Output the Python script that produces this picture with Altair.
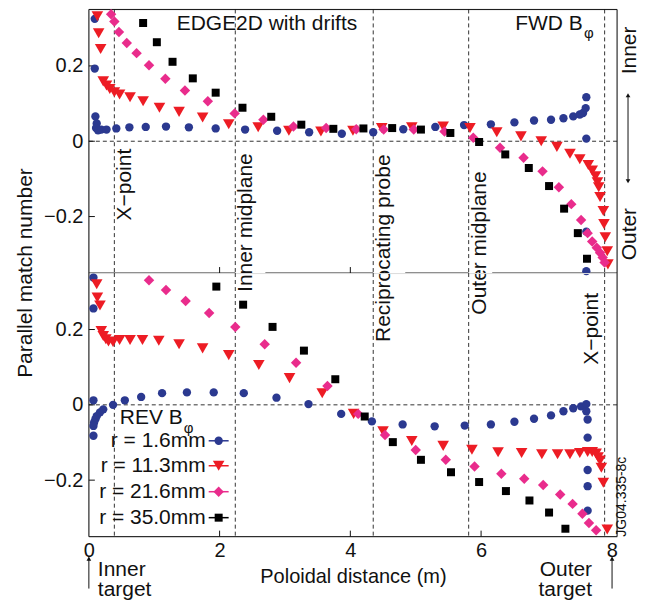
import altair as alt
import pandas as pd

FONT = "Liberation Sans"
W, H = 529, 264
X_DOMAIN = [0, 8.08]
Y_DOMAIN = [-0.35, 0.35]

# ---------------- data ----------------
SERIES = ["r = 1.6mm", "r = 11.3mm", "r = 21.6mm", "r = 35.0mm"]
COLORS = ["#2B3990", "#ED1C24", "#E92C8C", "#000000"]
SHAPES = ["circle", "triangle-down", "diamond", "square"]
SIZES = [70, 135, 110, 64]

# FWD B_phi (top panel)
fwd_blue_x = [0.09, 0.09, 0.10, 0.12, 0.11, 0.14, 0.19, 0.27, 0.42, 0.62, 0.87, 1.18, 1.53, 1.94, 2.39,
              2.88, 3.37, 3.87, 4.35, 4.81, 5.30, 5.74, 6.15, 6.51, 6.81, 7.07, 7.26, 7.41, 7.51, 7.56,
              7.60, 7.61, 7.61, 7.61, 7.61]
fwd_blue_y = [0.325, 0.193, 0.066, 0.047, 0.035, 0.029, 0.031, 0.031, 0.034, 0.037, 0.038, 0.039, 0.037,
              0.034, 0.031, 0.028, 0.024, 0.020, 0.024, 0.032, 0.038, 0.043, 0.045, 0.050, 0.055, 0.057,
              0.061, 0.066, 0.071, 0.075, 0.088, 0.117, 0.007, -0.24, -0.345]
fwd_red_x = [0.13, 0.15, 0.18, 0.22, 0.27, 0.32, 0.39, 0.47, 0.63, 0.83, 1.08, 1.38, 1.74, 2.14, 2.59,
             3.06, 3.55, 4.04, 4.48, 4.94, 5.42, 5.83, 6.24, 6.61, 6.92, 7.16, 7.36, 7.51, 7.64, 7.70,
             7.75, 7.78, 7.80, 7.82, 7.87, 7.88, 7.90, 7.93, 7.94]
fwd_red_y = [0.332, 0.287, 0.245, 0.159, 0.148, 0.139, 0.130, 0.124, 0.117, 0.106, 0.089, 0.078, 0.063,
             0.045, 0.037, 0.028, 0.026, 0.028, 0.035, 0.037, 0.039, 0.035, 0.024, 0.013, 0.000, -0.015,
             -0.033, -0.048, -0.063, -0.078, -0.093, -0.109, -0.122, -0.148, -0.185, -0.22, -0.255,
             -0.292, -0.327]
fwd_mag_x = [0.34, 0.39, 0.46, 0.58, 0.73, 0.92, 1.17, 1.47, 1.82, 2.23, 2.67, 3.13, 3.63, 4.09, 4.51,
             4.97, 5.44, 5.88, 6.29, 6.65, 6.94, 7.19, 7.38, 7.53, 7.63, 7.70, 7.77, 7.82, 7.86, 7.89]
fwd_mag_y = [0.337, 0.318, 0.29, 0.261, 0.234, 0.202, 0.166, 0.135, 0.106, 0.074, 0.057, 0.039, 0.035,
             0.032, 0.031, 0.031, 0.026, 0.009, -0.017, -0.044, -0.080, -0.122, -0.167, -0.209, -0.244,
             -0.266, -0.283, -0.296, -0.309, -0.322]
fwd_blk_x = [0.83, 1.04, 1.28, 1.59, 1.94, 2.35, 2.79, 3.25, 3.74, 4.20, 4.64, 5.08, 5.53, 5.97, 6.37,
             6.73, 7.04, 7.27, 7.48, 7.62]
fwd_blk_y = [0.314, 0.263, 0.211, 0.167, 0.129, 0.089, 0.065, 0.044, 0.033, 0.034, 0.035, 0.031, 0.022,
             -0.002, -0.035, -0.071, -0.119, -0.179, -0.244, -0.312]

# REV B_phi (bottom panel)
rev_blue_x = [0.07, 0.07, 0.07, 0.22, 0.17, 0.12, 0.10, 0.08, 0.07, 0.07, 0.37, 0.55, 0.80, 1.12, 1.50,
              1.91, 2.37, 2.87, 3.36, 3.86, 4.33, 4.80, 5.29, 5.75, 6.15, 6.51, 6.81, 7.07, 7.26, 7.41,
              7.53, 7.61, 7.61, 7.63, 7.63, 7.63, 7.63, 7.63]
rev_blue_y = [0.338, 0.256, 0.012, -0.012, -0.02, -0.03, -0.038, -0.047, -0.056, -0.082, 0.0, 0.012,
              0.021, 0.031, 0.033, 0.033, 0.031, 0.019, 0.002, -0.024, -0.044, -0.052, -0.057, -0.055,
              -0.052, -0.045, -0.037, -0.028, -0.017, -0.009, -0.004, 0.002, -0.017, -0.039, -0.087,
              -0.173, -0.216, -0.281]
rev_red_x = [0.12, 0.13, 0.17, 0.19, 0.22, 0.26, 0.30, 0.37, 0.47, 0.63, 0.82, 1.07, 1.38, 1.74, 2.14,
             2.60, 3.07, 3.57, 4.05, 4.50, 4.94, 5.42, 5.86, 6.26, 6.62, 6.93, 7.17, 7.36, 7.51, 7.63,
             7.70, 7.76, 7.79, 7.82, 7.84, 7.87, 7.93]
rev_red_y = [0.32, 0.285, 0.264, 0.196, 0.183, 0.174, 0.168, 0.167, 0.172, 0.172, 0.172, 0.170, 0.161,
             0.150, 0.132, 0.106, 0.071, 0.031, -0.024, -0.070, -0.096, -0.109, -0.119, -0.126, -0.128,
             -0.131, -0.131, -0.131, -0.128, -0.125, -0.125, -0.129, -0.139, -0.148, -0.167, -0.207,
             -0.331]
rev_mag_x = [0.92, 1.18, 1.48, 1.84, 2.24, 2.69, 3.17, 3.65, 4.12, 4.53, 5.00, 5.46, 5.90, 6.31, 6.66,
             6.95, 7.21, 7.40, 7.55, 7.65, 7.76]
rev_mag_y = [0.331, 0.305, 0.276, 0.244, 0.207, 0.161, 0.112, 0.050, -0.024, -0.080, -0.120, -0.146,
             -0.164, -0.183, -0.196, -0.213, -0.238, -0.263, -0.289, -0.314, -0.333]
rev_blk_x = [1.95, 2.36, 2.81, 3.29, 3.77, 4.22, 4.65, 5.08, 5.54, 5.97, 6.38, 6.74, 7.04, 7.29]
rev_blk_y = [0.314, 0.266, 0.207, 0.144, 0.068, -0.031, -0.099, -0.146, -0.179, -0.205, -0.229, -0.254,
             -0.286, -0.329]

# reference locations (dashed lines) and their labels
LOC_X = [0.39, 2.24, 4.35, 5.81, 7.89]
TOP_LABELS = ["X\u2212point", "Inner midplane", "Reciprocating probe", "Outer midplane"]
TOP_LABEL_X = [0.39, 2.24, 4.35, 5.81]
TOP_LABEL_Y = [-0.02, -0.032, -0.035, -0.08]
BOT_LABELS = ["X\u2212point"]
BOT_LABEL_X = [7.89]
BOT_LABEL_Y = [0.297]

Y_TICKS = [-0.2, 0, 0.2]
X_TICKS = [0, 2, 4, 6, 8]
TOP_INNER_XTICKS = [2, 4]
BOT_INNER_XTICKS = [2, 4, 6]
DIVIDER_GAPS = [(2.24, 2.70), (4.35, 4.84), (5.81, 6.17)]

# ---------------- helpers ----------------
XS = alt.Scale(domain=X_DOMAIN, nice=False, zero=False)
YS = alt.Scale(domain=Y_DOMAIN, nice=False, zero=False)
ONE = pd.DataFrame({"v": [0]})
INK = "#111111"

Y_AXIS = alt.Axis(values=Y_TICKS, format=".1~f", domain=False, ticks=False, grid=False,
                  labelPadding=6, labelFontSize=20, labelFont=FONT, labelColor=INK, title=None)
X_AXIS_BOTTOM = alt.Axis(values=X_TICKS, format="d", domain=False, ticks=False, grid=False,
                         labelPadding=4, labelFontSize=20, labelFont=FONT, labelColor=INK,
                         labelFlush=False, title="Poloidal distance (m)", titleFontSize=20,
                         titleFont=FONT, titleFontWeight="normal", titleColor=INK, titlePadding=6)


def text_at(txt, x, y, size=21, **kw):
    return alt.Chart(ONE).mark_text(fontSize=size, font=FONT, color=INK, **kw).encode(
        x=alt.value(x), y=alt.value(y), text=alt.value(txt))


def rule_px(x, y, x2=None, y2=None, **kw):
    enc = dict(x=alt.value(x), y=alt.value(y))
    if x2 is not None:
        enc["x2"] = alt.value(x2)
    if y2 is not None:
        enc["y2"] = alt.value(y2)
    return alt.Chart(ONE).mark_rule(color=INK, strokeWidth=1, **kw).encode(**enc)


def head(x, y, shape, size=30):
    return alt.Chart(ONE).mark_point(filled=True, opacity=1, color=INK, shape=shape, size=size).encode(
        x=alt.value(x), y=alt.value(y))


def panel_layers(xy_lists, label_names, label_x, label_y, top):
    xax = None if top else X_AXIS_BOTTOM

    def X(f="x"):
        return alt.X(f + ":Q", scale=XS, axis=xax)

    def Y(f="y"):
        return alt.Y(f + ":Q", scale=YS, axis=Y_AXIS)

    layers = []
    layers.append(alt.Chart(pd.DataFrame({"x": LOC_X})).mark_rule(
        color="#333333", strokeDash=[4, 3], strokeWidth=1).encode(x=X()))
    layers.append(alt.Chart(pd.DataFrame({"y": [0]})).mark_rule(
        color="#333333", strokeDash=[4, 3], strokeWidth=1).encode(y=Y()))
    layers.append(alt.Chart(pd.DataFrame({"y": Y_TICKS})).mark_rule(color=INK).encode(
        y=Y(), x=alt.value(0), x2=alt.value(6)))
    if top:
        seg_start = [X_DOMAIN[0]] + [g[1] for g in DIVIDER_GAPS]
        seg_end = [g[0] for g in DIVIDER_GAPS] + [X_DOMAIN[1]]
        layers.append(alt.Chart(pd.DataFrame({"x": seg_start, "x2": seg_end})).mark_rule(
            color=INK).encode(x=X(), x2="x2:Q", y=alt.value(H)))
        layers.append(alt.Chart(pd.DataFrame({"x": TOP_INNER_XTICKS})).mark_rule(color=INK).encode(
            x=X(), y=alt.value(H), y2=alt.value(H - 6)))
        layers += [rule_px(0, 0, x2=W), rule_px(0, 0, y2=H), rule_px(W, 0, y2=H)]
    else:
        layers.append(alt.Chart(pd.DataFrame({"x": BOT_INNER_XTICKS})).mark_rule(color=INK).encode(
            x=X(), y=alt.value(H), y2=alt.value(H - 6)))
        layers += [rule_px(0, 0, y2=H), rule_px(W, 0, y2=H), rule_px(0, H, x2=W)]
    for i, (xs, ys) in enumerate(xy_lists):
        df = pd.DataFrame({"x": xs, "y": ys})
        layers.append(
            alt.Chart(df).mark_point(filled=True, opacity=1, shape=SHAPES[i], size=SIZES[i],
                                     color=COLORS[i], strokeWidth=0).encode(x=X(), y=Y()))
    layers.append(alt.Chart(pd.DataFrame({"x": label_x, "y": label_y, "label": label_names})).mark_text(
        angle=270, align="right", baseline="top" if top else "bottom", dy=0 if top else -3,
        fontSize=21, font=FONT, color=INK).encode(x=X(), y=Y(), text="label:N"))
    return layers


# ---------------- top panel ----------------
top_layers = panel_layers(
    [(fwd_blue_x, fwd_blue_y), (fwd_red_x, fwd_red_y), (fwd_mag_x, fwd_mag_y), (fwd_blk_x, fwd_blk_y)],
    TOP_LABELS, TOP_LABEL_X, TOP_LABEL_Y, True)
top_layers += [
    text_at("EDGE2D with drifts", 88, 21, align="left", baseline="alphabetic"),
    text_at("FWD B", 427, 21, align="left", baseline="alphabetic"),
    text_at("\u03c6", 496, 29, size=15, align="left", baseline="alphabetic"),
    text_at("Inner", W + 13, 41, angle=270, align="center", baseline="middle"),
    text_at("Outer", W + 13, 225, angle=270, align="center", baseline="middle"),
    rule_px(W + 11, 86, y2=172),
    head(W + 11, 86, "triangle-up", 22),
    head(W + 11, 172, "triangle-down", 22),
    text_at("Parallel match number", -63, H, angle=270, align="center", baseline="middle"),
]
top = alt.layer(*top_layers).properties(width=W, height=H)

# ---------------- bottom panel ----------------
bot_layers = panel_layers(
    [(rev_blue_x, rev_blue_y), (rev_red_x, rev_red_y), (rev_mag_x, rev_mag_y), (rev_blk_x, rev_blk_y)],
    BOT_LABELS, BOT_LABEL_X, BOT_LABEL_Y, False)

# legend (REV B_phi)
LEG_ROWS = [168, 193, 219, 245]
bot_layers += [
    text_at("REV B", 31, 151, align="left", baseline="alphabetic"),
    text_at("\u03c6", 95, 160, size=15, align="left", baseline="alphabetic"),
]
for i, name in enumerate(SERIES):
    yrow = LEG_ROWS[i]
    bot_layers.append(text_at(name, 117, yrow, align="right", baseline="middle"))
    bot_layers.append(alt.Chart(ONE).mark_rule(color=COLORS[i], strokeWidth=1.5).encode(
        x=alt.value(120), x2=alt.value(140), y=alt.value(yrow)))
    bot_layers.append(alt.Chart(ONE).mark_point(filled=True, opacity=1, shape=SHAPES[i], size=SIZES[i],
                                                color=COLORS[i], strokeWidth=0).encode(
        x=alt.value(130), y=alt.value(yrow)))

bot_layers += [
    text_at("JG04.335-8c", W + 5, H, size=14, angle=270, align="left", baseline="middle"),
    text_at("Inner", 9, H + 39, align="left", baseline="alphabetic"),
    text_at("target", 9, H + 59, align="left", baseline="alphabetic"),
    rule_px(0, H + 21, y2=H + 52),
    head(0, H + 22, "triangle-up", 22),
    text_at("Outer", 504, H + 39, align="right", baseline="alphabetic"),
    text_at("target", 504, H + 59, align="right", baseline="alphabetic"),
    rule_px(524, H + 21, y2=H + 52),
    head(524, H + 22, "triangle-up", 22),
]
bottom = alt.layer(*bot_layers).properties(width=W, height=H)

chart = alt.vconcat(top, bottom, spacing=0, bounds="flush").configure_view(
    stroke=None).configure(font=FONT).properties(
    padding={"left": 14, "right": 7, "top": 8, "bottom": 5})

chart.save("out.html", embed_options={"renderer": "svg", "actions": False})
